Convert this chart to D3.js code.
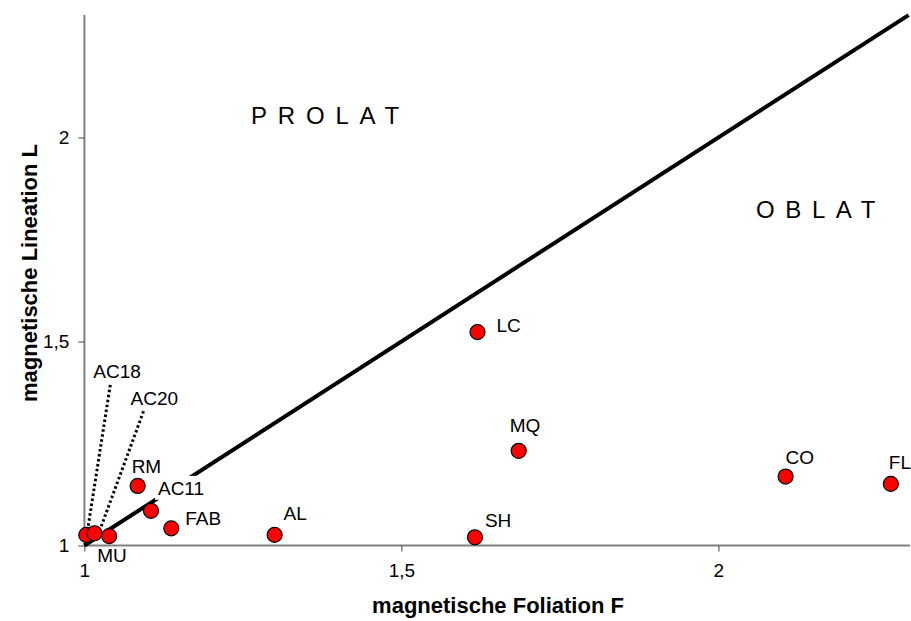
<!DOCTYPE html>
<html>
<head>
<meta charset="utf-8">
<script src="https://cdn.jsdelivr.net/npm/d3@7"></script>
<style>
  html, body { margin: 0; padding: 0; background: #fff; }
  svg { display: block; font-family: "Liberation Sans", Arial, sans-serif; }
</style>
</head>
<body>
<svg id="chart" width="911" height="621"></svg>
<script>
// ---- data ----
const samples     = ["AC18", "AC20", "MU", "RM", "AC11", "FAB", "AL", "LC", "SH", "MQ", "CO", "FL"];
const foliationF  = [1.003, 1.016, 1.039, 1.084, 1.105, 1.137, 1.300, 1.620, 1.616, 1.685, 2.106, 2.272];
const lineationL  = [1.026, 1.030, 1.023, 1.146, 1.085, 1.042, 1.026, 1.523, 1.020, 1.232, 1.169, 1.151];
const xTicks      = [1, 1.5, 2];
const yTicks      = [1, 1.5, 2];
const xTickLabels = ["1", "1,5", "2"];
const yTickLabels = ["1", "1,5", "2"];
const fieldNames  = ["PROLAT", "OBLAT"];

// ---- label placement (offsets in px from point centre: text start, baseline) ----
const labelOffsets = {
  AC18: [7, -157], AC20: [36, -128], MU: [-12, 26], RM: [-6, -13], AC11: [7, -16],
  FAB: [14, -3], AL: [9, -15], LC: [19, 0], SH: [10, -10], MQ: [-9, -19], CO: [0, -13], FL: [-2, -15]
};
const leaderFrom = { AC18: [24, -150], AC20: [49, -122] };  // dotted leader start rel. to point
const leaderTo   = { AC18: [1, -3], AC20: [6, -5] };
const labelBoxed = { AC11: true };

// ---- layout ----
const svg = d3.select("#chart");
const x = d3.scaleLinear().domain([1, 2.3]).range([84.4, 908.6]);
const y = d3.scaleLinear().domain([1, 2.3]).range([545.5, 15.1]);
const AXIS = "#808080", TICK = "#404040";

// axes
const gx = svg.append("g").attr("transform", `translate(0,${y(1)})`)
  .call(d3.axisBottom(x).tickValues(xTicks).tickSize(6).tickPadding(12)
        .tickFormat((d, i) => xTickLabels[i]));
gx.select(".domain").attr("d", `M${x(1)},0H910`).attr("stroke", AXIS).attr("stroke-width", 2);
gx.selectAll(".tick line").attr("stroke", TICK);
gx.selectAll(".tick text").attr("font-size", 19).attr("fill", "#000")
  .attr("font-family", "Liberation Sans, Arial, sans-serif");

const gy = svg.append("g").attr("transform", `translate(${x(1)},0)`)
  .call(d3.axisLeft(y).tickValues(yTicks).tickSize(6).tickPadding(9)
        .tickFormat((d, i) => yTickLabels[i]));
gy.select(".domain").attr("d", `M0,${y(1)}V15`).attr("stroke", AXIS).attr("stroke-width", 2);
gy.selectAll(".tick line").attr("stroke", TICK);
gy.selectAll(".tick text").attr("font-size", 19).attr("fill", "#000")
  .attr("font-family", "Liberation Sans, Arial, sans-serif");

// axis titles
svg.append("text").attr("x", 498).attr("y", 613).attr("text-anchor", "middle")
  .attr("font-size", 22).attr("font-weight", "bold").text("magnetische Foliation F");
svg.append("text").attr("transform", "translate(37,273) rotate(-90)").attr("text-anchor", "middle")
  .attr("font-size", 22).attr("font-weight", "bold").text("magnetische Lineation L");

// isotropy line L = F
svg.append("line")
  .attr("x1", x(1)).attr("y1", y(1)).attr("x2", x(2.3)).attr("y2", y(2.3))
  .attr("stroke", "#000").attr("stroke-width", 4);

// field names
svg.append("text").attr("x", 251).attr("y", 124).attr("font-size", 24)
  .attr("letter-spacing", 10.8).text(fieldNames[0]);
svg.append("text").attr("x", 756).attr("y", 218).attr("font-size", 24)
  .attr("letter-spacing", 10.6).text(fieldNames[1]);

// leaders
samples.forEach((s, i) => {
  if (!leaderFrom[s]) return;
  const px = x(foliationF[i]), py = y(lineationL[i]);
  svg.append("line")
    .attr("x1", px + leaderFrom[s][0]).attr("y1", py + leaderFrom[s][1])
    .attr("x2", px + leaderTo[s][0]).attr("y2", py + leaderTo[s][1])
    .attr("stroke", "#000").attr("stroke-width", 3).attr("stroke-dasharray", "2.5,2.5");
});

// points
svg.append("g").selectAll("circle").data(samples).join("circle")
  .attr("cx", (d, i) => x(foliationF[i]))
  .attr("cy", (d, i) => y(lineationL[i]))
  .attr("r", 7.5).attr("fill", "#ff0000").attr("stroke", "#000").attr("stroke-width", 1.2);

// labels
const lg = svg.append("g");
samples.forEach((s, i) => {
  const px = x(foliationF[i]), py = y(lineationL[i]);
  const t = lg.append("text").attr("x", px + labelOffsets[s][0]).attr("y", py + labelOffsets[s][1])
    .attr("font-size", 19).attr("fill", "#000").text(s);
  if (labelBoxed[s]) {
    const b = t.node().getBBox();
    lg.insert("rect", () => t.node())
      .attr("x", b.x - 3).attr("y", b.y - 2).attr("width", b.width + 6).attr("height", b.height + 3)
      .attr("fill", "#fff");
  }
});
</script>
</body>
</html>
